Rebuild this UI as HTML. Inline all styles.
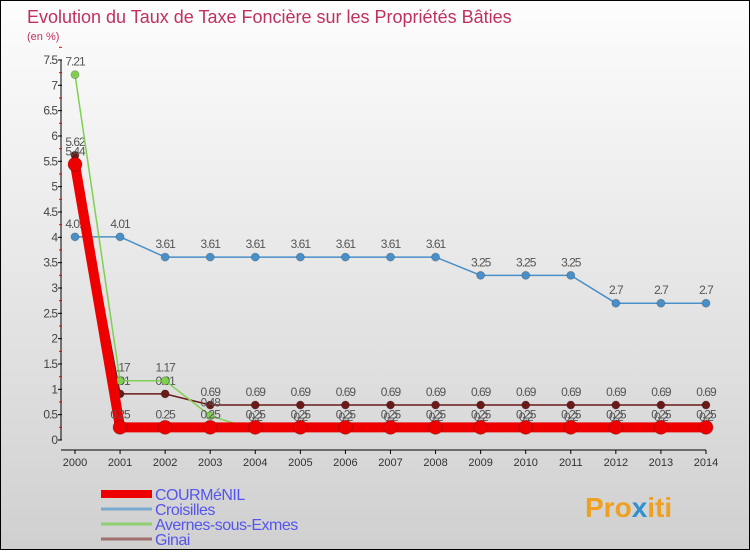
<!DOCTYPE html>
<html><head><meta charset="utf-8"><style>
html,body{margin:0;padding:0}
body{width:750px;height:550px;overflow:hidden;font-family:"Liberation Sans",sans-serif}
#wrap{position:relative;width:748px;height:548px;border:1px solid #000;background:linear-gradient(#fdfdfd,#d0d0d0)}
</style></head><body>
<div id="wrap">
<svg id="chart" width="748" height="548">
<text x="26" y="22" font-size="18" fill="#c03060">Evolution du Taux de Taxe Foncière sur les Propriétés Bâties</text>
<text x="26" y="39" font-size="11" fill="#c03060">(en %)</text>
<g id="axes"></g><g id="series"></g><g id="legend"></g>
<text x="584" y="516" font-size="28" font-weight="bold" fill="#f0a020">Pro<tspan fill="#3090d0">x</tspan>iti</text>
</svg></div>
<script>
const years=[2000,2001,2002,2003,2004,2005,2006,2007,2008,2009,2010,2011,2012,2013,2014];
const yTicks=[0,0.5,1,1.5,2,2.5,3,3.5,4,4.5,5,5.5,6,6.5,7,7.5];
const courmenil=[5.44,0.25,0.25,0.25,0.25,0.25,0.25,0.25,0.25,0.25,0.25,0.25,0.25,0.25,0.25];
const croisilles=[4.01,4.01,3.61,3.61,3.61,3.61,3.61,3.61,3.61,3.25,3.25,3.25,2.7,2.7,2.7];
const avernes=[7.21,1.17,1.17,0.48,0.2,0.2,0.2,0.2,0.2,0.2,0.2,0.2,0.2,0.2,0.2];
const ginai=[5.62,0.91,0.91,0.69,0.69,0.69,0.69,0.69,0.69,0.69,0.69,0.69,0.69,0.69,0.69];
const NS="http://www.w3.org/2000/svg";
const X=i=>74+i*45.07, Y=v=>439-v*50.67;
function mk(t,a,p){const e=document.createElementNS(NS,t);for(const k in a)e.setAttribute(k,a[k]);p.appendChild(e);return e;}
const ax=document.getElementById('axes');
let l=mk('line',{x1:60,y1:Y(7.5),x2:60,y2:Y(0)+0,stroke:'#000'},ax);

l=mk('line',{x1:60,y1:449,x2:X(14),y2:449,stroke:'#000'},ax);

yTicks.forEach(v=>{mk('line',{x1:57,x2:61,y1:Y(v),y2:Y(v),stroke:'#000'},ax);
 mk('line',{x1:58,x2:61,y1:Y(v+0.25),y2:Y(v+0.25),stroke:'#e00'},ax);
 const t=mk('text',{x:56,y:Y(v)+4,'font-size':12,'text-anchor':'end',fill:'#444','letter-spacing':'-1'},ax);t.textContent=v;
 });
years.forEach((y,i)=>{mk('line',{x1:X(i),x2:X(i),y1:449,y2:453,stroke:'#000'},ax);
 const t=mk('text',{x:X(i),y:465,'font-size':11,'text-anchor':'middle',fill:'#333'},ax);t.textContent=y;
 });
const se=document.getElementById('series');
function draw(d,col,w,r,name,lab){const g=mk('g',{},se);
 
 mk('polyline',{points:d.map((v,i)=>X(i)+','+Y(v)).join(' '),fill:'none',stroke:col,'stroke-width':w},g);
 d.forEach((v,i)=>{const c=mk('circle',{cx:X(i),cy:Y(v),r:r,fill:col,stroke:'rgba(0,0,0,0.2)'},g);
  
  const t=mk('text',{x:X(i),y:Y(v)-9,'font-size':12,'text-anchor':'middle',fill:'#555','letter-spacing':'-1'},g);
  t.textContent=String(v).replace(/^0?\.|\./,m=>m);});}
draw(croisilles,'#4a90c8',1.5,4,'series-croisilles');
draw(ginai,'#6b1a1a',1.5,4,'series-ginai');
draw(avernes,'#80d050',1.5,4,'series-avernes');
draw(courmenil,'#ee0000',10,7,'series-courmenil');
const lg=document.getElementById('legend');
[['COURMéNIL','#ee0000',8],['Croisilles','#7aaad0',3],['Avernes-sous-Exmes','#90d070',3],['Ginai','#a07070',3]].forEach((e,i)=>{
 const y=493+i*15;const g=mk('g',{},lg);
 
 mk('line',{x1:100,x2:151,y1:y,y2:y,stroke:e[1],'stroke-width':e[2]},g);
 const t=mk('text',{x:154,y:y+6,'font-size':16,fill:'#5555ee','letter-spacing':'-0.5'},g);t.textContent=e[0];});
</script></body></html>
